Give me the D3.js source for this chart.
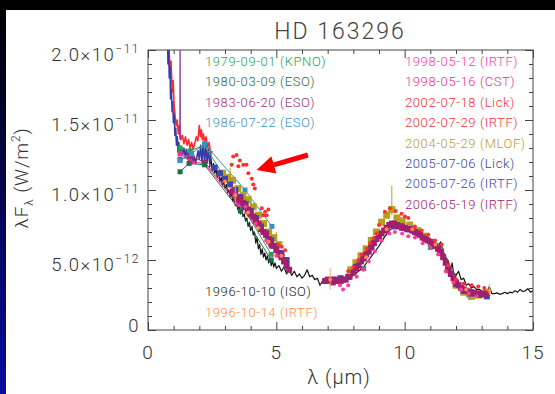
<!DOCTYPE html>
<html>
<head>
<meta charset="utf-8">
<script src="https://cdn.jsdelivr.net/npm/d3@7/dist/d3.min.js"></script>
<style>
body{margin:0;background:#000;overflow:hidden;}
svg text{font-family:Roboto,"Liberation Sans",sans-serif;font-weight:300;}
</style>
</head>
<body>
<div id="chart"></div>
<script>
// values are lambda (um), lambda*F_lambda in units of 1e-12 W/m^2
var unit = 1e-12;

var xMajor = [0, 5, 10, 15];
var xMinor = [1, 2, 3, 4, 6, 7, 8, 9, 11, 12, 13, 14];
var yMajor = [0, 5, 10, 15, 20];
var yMinor = [1, 2, 3, 4, 6, 7, 8, 9, 11, 12, 13, 14, 16, 17, 18, 19];

var legendLeft = ["1979-09-01 (KPNO)", "1980-03-09 (ESO)", "1983-06-20 (ESO)", "1986-07-22 (ESO)"];
var legendLeftColors = ["#2a9d5a", "#1f6b45", "#9b2f7a", "#3b8fc4"];
var legendRight = ["1998-05-12 (IRTF)", "1998-05-16 (CST)", "2002-07-18 (Lick)", "2002-07-29 (IRTF)",
  "2004-05-29 (MLOF)", "2005-07-06 (Lick)", "2005-07-26 (IRTF)", "2006-05-19 (IRTF)"];
var legendRightColors = ["#f43c9c", "#f0308c", "#f0303c", "#f03232", "#b4a01e", "#3c3ca0", "#4242b0", "#a0206e"];
var legendBottom = ["1996-10-10 (ISO)", "1996-10-14 (IRTF)"];
var legendBottomColors = ["#222222", "#ff8a3c"];

// 1996-10-10 ISO spectrum
var iso1996 = [[2.40,11.6],[2.45,12.3],[2.50,11.4],[2.55,11.9],[2.60,11.2],[2.65,11.5],[2.70,10.9],[2.75,11.3],
  [2.80,10.6],[2.85,10.9],[2.90,10.3],[2.95,10.6],[3.00,10.1],[3.05,10.4],[3.10,9.8],[3.15,10.0],[3.20,9.5],
  [3.25,9.8],[3.30,9.2],[3.35,9.4],[3.40,8.9],[3.45,9.2],[3.50,8.6],[3.55,8.8],[3.60,8.3],[3.65,8.6],[3.70,8.1],
  [3.75,8.3],[3.80,7.8],[3.85,8.0],[3.90,7.4],[3.95,7.7],[4.00,7.1],[4.05,7.4],[4.10,6.8],[4.15,7.0],[4.20,6.2],
  [4.25,6.6],[4.30,5.8],[4.35,6.1],[4.40,5.4],[4.45,5.8],[4.50,5.2],[4.55,5.5],[4.60,5.0],[4.65,5.3],[4.70,4.8],
  [4.75,5.1],[4.80,4.6],[4.85,4.9],[4.90,4.5],[4.95,4.8],[5.00,4.4],[5.10,4.6],[5.20,4.2],[5.30,4.5],[5.40,4.0],
  [5.50,4.3],[5.60,3.9],[5.70,4.2],[5.80,3.8],[5.90,4.0],[6.00,3.7],[6.10,3.9],[6.20,4.3],[6.30,3.8],[6.40,3.9],
  [6.50,3.6],[6.60,3.7],[6.70,3.2],[6.80,3.5],[6.90,3.4],[7.00,3.6],[7.20,3.5],[7.40,3.7],[7.60,3.6],[7.80,3.7],
  [8.00,3.9],[8.20,4.2],[8.40,4.5],[8.60,5.0],[8.80,5.5],[9.00,6.0],[9.20,6.6],[9.40,7.1],[9.60,7.4],[9.80,7.5],
  [10.0,7.3],[10.2,7.1],[10.4,6.9],[10.5,7.2],[10.6,6.6],[10.8,6.4],[11.0,6.2],[11.2,6.3],[11.3,5.9],[11.4,6.3],
  [11.5,5.6],[11.6,5.2],[11.7,4.9],[11.8,4.3],[11.85,4.8],[11.9,4.1],[12.0,3.9],[12.1,4.2],[12.2,3.6],[12.3,3.7],
  [12.4,3.2],[12.5,3.3],[12.6,3.0],[12.7,3.1],[12.8,2.9],[12.9,2.9],[13.0,2.8],[13.1,2.7],[13.2,2.7],[13.3,3.1],
  [13.4,2.6],[13.5,2.6],[13.6,2.65],[13.7,2.55],[13.8,2.6],[13.9,2.7],[14.0,2.6],[14.1,2.7],[14.2,2.65],
  [14.3,2.8],[14.4,2.7],[14.5,2.9],[14.6,2.75],[14.7,2.8],[14.8,2.95],[14.9,2.7],[15.0,2.8]];

// 2005-07-06 Lick spectrum
var lick2005 = [[0.62,30],[0.66,26],[0.70,24],[0.72,21],[0.75,22],[0.78,19],[0.80,20.5],[0.83,18],[0.86,18.8],
  [0.88,16.5],[0.91,17.2],[0.94,15.6],[0.96,16.3],[0.99,14.8],[1.02,15.4],[1.05,13.9],[1.08,14.4],[1.11,13.2],
  [1.14,13.8],[1.17,12.7],[1.20,13.4],[1.25,12.6],[1.30,13.1],[1.35,12.5],[1.40,13.0],[1.45,12.4],[1.50,12.9],
  [1.55,12.2],[1.60,12.8],[1.65,12.1],[1.70,12.6],[1.75,12.0],[1.80,12.4],[1.85,11.9],[1.90,12.3],[1.95,12.8],
  [2.00,12.2],[2.05,13.2],[2.10,12.0],[2.15,13.3],[2.20,12.0],[2.25,13.2],[2.30,11.9],[2.35,13.0],[2.40,11.9],
  [2.45,12.6]];

// 2002-07-18 Lick spectrum
var lick2002 = [[0.70,28],[0.74,24],[0.78,21],[0.82,20],[0.86,18.5],[0.90,19.2],[0.94,17],[0.98,17.8],[1.02,16],
  [1.06,15.2],[1.10,14.6],[1.14,15.0],[1.18,14.0],[1.22,14.6],[1.28,13.6],[1.34,13.9],[1.40,13.3],[1.46,13.8],
  [1.52,13.2],[1.58,13.6],[1.64,13.0],[1.70,13.4],[1.76,12.9],[1.82,13.3],[1.88,13.8],[1.94,13.5],[2.00,14.6],
  [2.04,13.8],[2.08,14.3],[2.12,13.6],[2.16,14.0],[2.20,13.4],[2.26,13.8],[2.32,13.1],[2.38,13.4],[2.44,12.6],
  [2.50,12.8]];

// 2005-07-26 IRTF short spike
var irtf2005Spike = [[1.24,13.6],[1.25,22],[1.26,13.8]];

// near-IR photometry (connected)
var kpno1979 = [[1.25,13.0],[1.65,12.8],[2.2,13.2],[3.5,9.4],[4.8,5.4]];
var kpno1979Mir = [[8.4,4.4],[10.1,7.3],[11.0,5.9],[12.5,2.5]];
var eso1980 = [[1.25,11.3],[1.6,11.9],[2.2,11.8],[3.6,8.5],[4.8,5.0]];
var eso1983 = [[1.25,12.2],[1.65,12.4],[2.2,12.0],[3.7,8.8],[4.8,6.0]];
var eso1986 = [[1.25,12.1],[1.7,12.6],[2.2,13.3],[3.78,10.0],[4.83,7.4]];
var cst1998 = [[1.25,12.6],[1.65,12.0],[2.2,11.9],[3.5,9.0],[4.7,6.3]];

// squares
var mlof2004 = [[2.9,11.2],[3.1,10.9],[3.3,10.7],[3.5,10.1],[3.7,9.6],[3.9,9.3],[4.1,8.8],[4.3,8.2],[4.5,7.6],
  [4.7,7.0],[4.9,6.6],[5.1,6.1],[7.9,4.3],[8.1,4.8],[8.3,5.3],[8.5,5.8],[8.7,6.4],[8.9,7.0],[9.1,7.7],[9.3,8.2],
  [9.5,8.6],[9.7,8.0],[9.9,7.8],[10.2,7.5],[10.5,7.1],[10.8,6.7],[11.1,6.2],[11.4,5.6],[11.7,4.3],[12.0,3.2],
  [12.3,2.7],[12.6,2.4],[12.9,2.5],[13.2,2.7]];
var mlof2004Err = [[9.5,8.2,10.3],[3.2,10.2,11.6],[4.0,8.3,9.6],[5.0,5.8,7.0]];
var irtf2005 = [[2.6,11.6],[2.8,11.2],[3.0,10.8],[3.2,10.4],[3.4,10.0],[3.6,9.5],[3.8,9.0],[4.0,8.5],[4.2,8.0],
  [4.4,7.4],[4.6,6.9],[4.8,6.4],[5.0,6.0],[5.2,5.5],[5.4,5.0],[7.2,3.6],[7.5,3.7],[7.8,3.8],[8.1,4.5],[8.4,5.2],
  [8.7,6.0],[9.0,6.7],[9.3,7.2],[9.6,7.4],[9.9,7.3],[10.2,7.2],[10.5,6.9],[10.8,6.5],[11.1,6.1],[11.4,5.5],
  [11.7,4.3],[12.0,3.3],[12.3,2.8],[12.6,2.6],[12.9,2.5],[13.2,2.4]];
var irtf2006 = [[3.3,9.9],[3.4,9.6],[3.5,9.4],[3.6,9.3],[3.7,9.1],[3.8,8.8],[3.9,8.6],[4.0,8.3],[4.1,8.1],
  [4.2,7.8],[4.3,7.6],[4.4,7.2],[4.5,7.0],[4.6,6.8],[4.7,6.5],[4.8,6.2],[4.9,6.0],[5.0,5.7],[5.1,5.4],[5.2,5.2],
  [5.3,4.9],[5.4,4.6],[5.5,4.3],[6.9,3.5],[7.0,3.6],[7.1,3.5],[7.2,3.4],[7.3,3.6],[7.4,3.5],[7.5,3.5],[7.6,3.6],
  [7.7,3.6],[7.85,3.8],[8.0,4.1],[8.1,4.4],[8.2,4.6],[8.3,4.9],[8.4,5.1],[8.5,5.4],[8.6,5.6],[8.7,5.9],[8.8,6.2],
  [8.9,6.5],[9.0,6.7],[9.1,6.9],[9.2,7.1],[9.3,7.3],[9.4,7.5],[9.5,7.6],[9.6,7.6],[9.7,7.5],[9.8,7.4],[9.9,7.4],
  [10.0,7.3],[10.1,7.2],[10.2,7.2],[10.3,7.1],[10.4,7.0],[10.5,6.9],[10.6,6.8],[10.7,6.6],[10.8,6.5],[10.9,6.4],
  [11.0,6.3],[11.1,6.1],[11.2,6.0],[11.3,5.8],[11.4,5.6],[11.5,5.2],[11.6,4.8],[11.7,4.4],[11.8,4.0],[11.9,3.7],
  [12.0,3.4],[12.1,3.2],[12.2,3.0],[12.3,2.9],[12.4,2.8],[12.5,2.75],[12.6,2.7],[12.7,2.65],[12.8,2.6],
  [12.9,2.6],[13.0,2.6],[13.1,2.55],[13.2,2.6]];

// dots
var irtf2002 = [[3.26,11.8],[3.32,12.4],[3.45,12.5],[3.52,11.7],[3.58,12.1],[3.71,11.8],[3.84,11.8],[3.91,11.2],
  [4.04,10.8],[4.10,10.4],[4.16,10.1],[4.43,8.7],[4.49,8.2],[4.56,8.45],[4.62,8.2],[4.69,8.6],[5.08,6.1],
  [5.21,5.95],[5.34,5.7],[7.8,4.2],[8.0,4.5],[8.19,5.0],[8.32,5.4],[8.52,5.8],[8.65,6.2],[8.78,6.55],[8.91,6.9],
  [9.0,7.5],[9.23,8.45],[9.43,8.7],[9.65,8.5],[9.88,8.3],[10.01,8.1],[10.14,8.0],[10.4,7.4],[10.66,7.1],
  [10.92,6.8],[11.18,6.4],[11.44,6.1],[11.7,4.6],[12.0,3.6],[12.3,3.3],[12.61,3.2],[12.87,3.1],[13.1,3.0]];
var irtf1998 = [[3.4,9.7],[3.8,8.8],[4.2,7.6],[4.6,6.4],[5.0,5.3],[7.48,3.2],[7.6,2.9],[7.8,3.2],[8.13,3.8],
  [8.39,4.3],[8.6,4.9],[8.84,5.6],[9.1,6.4],[9.4,6.9],[9.62,7.0],[9.9,6.9],[10.14,6.7],[10.4,6.6],[10.7,6.2],
  [11.0,5.9],[11.3,5.4],[11.6,4.2],[11.9,3.4],[12.2,2.9],[12.5,2.6],[12.8,2.4]];
var irtf1996 = [[3.0,10.6],[3.4,9.6],[3.9,8.4],[4.3,7.3],[4.7,6.3],[5.2,5.3],[7.1,3.6],[8.5,5.2],[9.3,7.2],
  [10.3,7.2],[11.2,6.1],[12.4,2.9],[13.3,2.8]];
var irtf1996Err = [[7.1,2.9,4.4],[3.4,9.0,10.2],[13.3,2.5,3.3]];

// arrow annotation: tail, tip
var arrowPts = [[6.23,12.5],[4.23,11.43]];

var W = 555, H = 394;
var x = d3.scaleLinear().domain([0, 15]).range([148, 533]);
var y = d3.scaleLinear().domain([0, 20 * unit]).range([330, 50]);
var px = function(d) { return x(d[0]); };
var py = function(d) { return y(d[1] * unit); };
var line = d3.line().x(px).y(py);

var svg = d3.select("#chart").append("svg").attr("width", W).attr("height", H);
var defs = svg.append("defs");
var grad = defs.append("linearGradient").attr("id", "bg").attr("x1", 0).attr("y1", 0).attr("x2", 0).attr("y2", 1);
grad.append("stop").attr("offset", "0%").attr("stop-color", "#000000");
grad.append("stop").attr("offset", "100%").attr("stop-color", "#0a0aa0");
defs.append("clipPath").attr("id", "plot").append("rect")
  .attr("x", 148).attr("y", 50).attr("width", 385).attr("height", 280);

svg.append("rect").attr("width", W).attr("height", H).attr("fill", "#000");
svg.append("rect").attr("x", 0).attr("y", 0).attr("width", 7).attr("height", H).attr("fill", "url(#bg)");
svg.append("rect").attr("x", 6).attr("y", 10).attr("width", W - 6).attr("height", H - 10).attr("fill", "#fff");

var g = svg.append("g").attr("clip-path", "url(#plot)");

function drawLine(data, color, w) {
  g.append("path").datum(data).attr("d", line).attr("fill", "none")
    .attr("stroke", color).attr("stroke-width", w).attr("stroke-linejoin", "round");
}
function drawSquares(data, color, s) {
  g.selectAll(null).data(data).enter().append("rect")
    .attr("x", function(d) { return px(d) - s / 2; })
    .attr("y", function(d) { return py(d) - s / 2; })
    .attr("width", s).attr("height", s).attr("fill", color);
}
function drawDots(data, color, r) {
  g.selectAll(null).data(data).enter().append("circle")
    .attr("cx", px).attr("cy", py).attr("r", r).attr("fill", color);
}
function drawErr(data, color) {
  g.selectAll(null).data(data).enter().append("line")
    .attr("x1", function(d) { return x(d[0]); }).attr("x2", function(d) { return x(d[0]); })
    .attr("y1", function(d) { return y(d[1] * unit); }).attr("y2", function(d) { return y(d[2] * unit); })
    .attr("stroke", color).attr("stroke-width", 1);
}

// ISO underneath
drawLine(iso1996, "#111", 1.2);

// optical/near-IR spectra
drawLine(lick2002, "#ff2a2a", 1.6);
drawLine(lick2005, "#3a3aa8", 1.6);
drawLine(irtf2005Spike, "#8a3aa8", 1.2);

// photometry with connecting lines
[[cst1998, "#f0308c"], [eso1983, "#9b2f7a"], [eso1980, "#1f6b45"], [kpno1979, "#2a9d5a"], [eso1986, "#3b8fc4"]]
  .forEach(function(s) {
    drawLine(s[0], s[1], 1);
    drawSquares(s[0], s[1], 5);
  });
drawSquares(kpno1979Mir, "#2a9d5a", 5);

// mid-IR squares
drawErr(mlof2004Err, "#b4a01e");
drawSquares(mlof2004, "#b4a01e", 7);
drawSquares(irtf2005, "#4242b0", 6);
drawSquares(irtf2006, "#a0206e", 6);

// dots
drawErr(irtf1996Err, "#ffa070");
drawDots(irtf1998, "#ff3aa0", 2);
drawDots(irtf1996, "#ff8a3c", 2);
drawDots(irtf2002, "#ff3030", 2);

// axes: ticks inward on all four sides
var axisColor = "#444";
function ticks(axisFn, vals, len, tr) {
  var a = svg.append("g").attr("transform", tr)
    .call(axisFn.tickValues(vals).tickSize(len).tickSizeOuter(0).tickFormat(""));
  a.select(".domain").remove();
  a.selectAll("line").attr("stroke", axisColor);
}
ticks(d3.axisBottom(x), xMajor, -8, "translate(0,330)");
ticks(d3.axisBottom(x), xMinor, -4, "translate(0,330)");
ticks(d3.axisTop(x), xMajor, -8, "translate(0,50)");
ticks(d3.axisTop(x), xMinor, -4, "translate(0,50)");
var yMaj = yMajor.map(function(v) { return v * unit; });
var yMin = yMinor.map(function(v) { return v * unit; });
ticks(d3.axisLeft(y), yMaj, -8, "translate(148,0)");
ticks(d3.axisLeft(y), yMin, -4, "translate(148,0)");
ticks(d3.axisRight(y), yMaj, -8, "translate(533,0)");
ticks(d3.axisRight(y), yMin, -4, "translate(533,0)");
svg.append("rect").attr("x", 148).attr("y", 50).attr("width", 385).attr("height", 280)
  .attr("fill", "none").attr("stroke", axisColor).attr("stroke-width", 1);

var labColor = "#333";
// x tick labels
svg.selectAll(null).data(xMajor).enter().append("text")
  .attr("x", function(d) { return x(d); }).attr("y", 352).attr("dy", "0.36em")
  .attr("text-anchor", "middle").attr("font-size", 19).attr("fill", labColor)
  .attr("letter-spacing", 1).text(function(d) { return d; });

// y tick labels
yMaj.forEach(function(v) {
  var t = svg.append("text").attr("x", 140).attr("text-anchor", "end")
    .attr("font-size", 18.5).attr("fill", labColor).attr("letter-spacing", 1.5);
  if (v === 0) {
    t.attr("y", y(v) - 5).attr("dy", "0.36em").text("0");
    return;
  }
  var e = Math.floor(Math.log10(v) + 1e-9);
  var m = (v / Math.pow(10, e)).toFixed(1);
  t.attr("y", y(v) + 4).attr("dy", "0.36em");
  t.append("tspan").text(m + "\u00d710");
  t.append("tspan").attr("dy", -8).attr("font-size", 12).text("\u2212" + Math.abs(e));
});

// axis titles
svg.append("text").attr("x", 339).attr("y", 377).attr("dy", "0.36em").attr("text-anchor", "middle")
  .attr("font-size", 20).attr("fill", labColor).attr("letter-spacing", 1)
  .text("\u03bb (\u03bcm)");
var yt = svg.append("text").attr("transform", "translate(28,178) rotate(-90)")
  .attr("text-anchor", "middle").attr("font-size", 19).attr("fill", labColor).attr("letter-spacing", 0.8);
yt.append("tspan").text("\u03bbF");
yt.append("tspan").attr("dy", 5).attr("font-size", 12).text("\u03bb");
yt.append("tspan").attr("dy", -5).text(" (W/m");
yt.append("tspan").attr("dy", -8).attr("font-size", 12).text("2");
yt.append("tspan").attr("dy", 8).text(")");

// title
svg.append("text").attr("x", 340).attr("y", 31).attr("dy", "0.36em").attr("text-anchor", "middle")
  .attr("font-size", 23).attr("fill", "#444").attr("letter-spacing", 2).text("HD 163296");

// legend
function legend(names, colors, x0, y0) {
  svg.selectAll(null).data(names).enter().append("text")
    .attr("x", x0).attr("y", function(d, i) { return y0 + i * 20.4; }).attr("dy", "0.36em")
    .attr("font-size", 13).attr("letter-spacing", 0.6)
    .attr("fill", function(d, i) { return colors[i]; }).text(function(d) { return d; });
}
legend(legendLeft, legendLeftColors, 205, 61.3);
legend(legendRight, legendRightColors, 405, 61.3);
legend(legendBottom, legendBottomColors, 205, 291.8);

// red arrow
var tail = [x(arrowPts[0][0]), y(arrowPts[0][1] * unit)];
var tip = [x(arrowPts[1][0]), y(arrowPts[1][1] * unit)];
var ang = Math.atan2(tip[1] - tail[1], tip[0] - tail[0]);
var headLen = 18, headW = 9;
var base = [tip[0] - headLen * Math.cos(ang), tip[1] - headLen * Math.sin(ang)];
svg.append("line").attr("x1", tail[0]).attr("y1", tail[1]).attr("x2", base[0]).attr("y2", base[1])
  .attr("stroke", "#ff0000").attr("stroke-width", 5);
svg.append("path").attr("fill", "#ff0000").attr("d",
  "M" + tip[0] + "," + tip[1] +
  "L" + (base[0] + headW * Math.sin(ang)) + "," + (base[1] - headW * Math.cos(ang)) +
  "L" + (base[0] - headW * Math.sin(ang)) + "," + (base[1] + headW * Math.cos(ang)) + "Z");
</script>
</body>
</html>
